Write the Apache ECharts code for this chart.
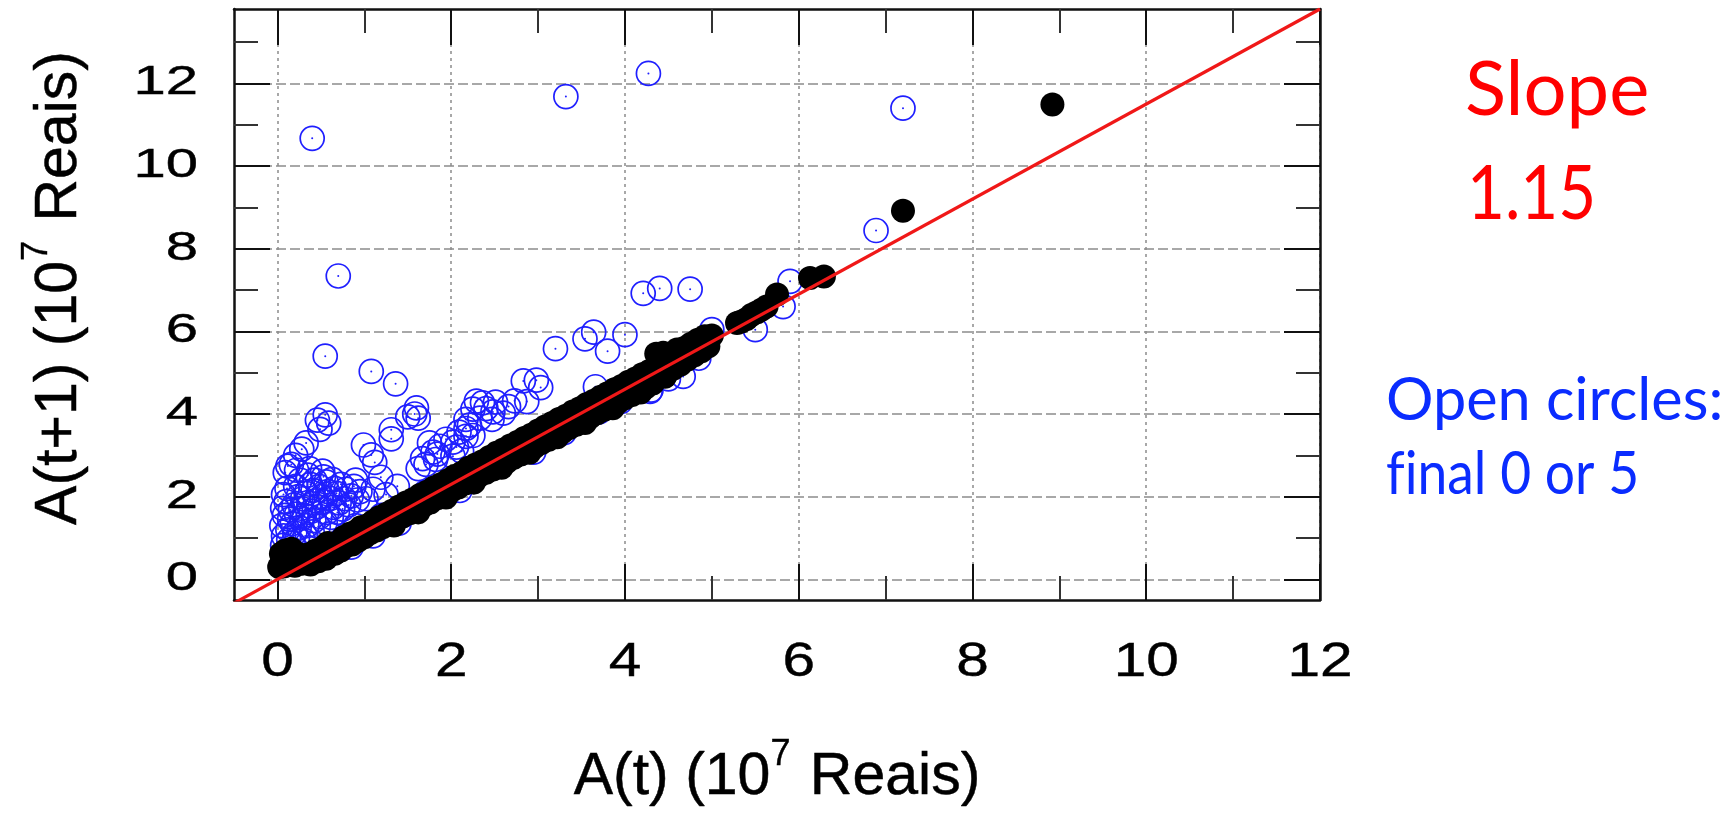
<!DOCTYPE html>
<html>
<head>
<meta charset="utf-8">
<title>A(t+1) vs A(t)</title>
<script src="https://cdn.jsdelivr.net/npm/echarts@6/dist/echarts.min.js"></script>
<style>
  html, body { margin: 0; padding: 0; background: #ffffff; }
  #chart { width: 1731px; height: 815px; }
</style>
</head>
<body>
<div id="chart"></div>
<script>
// Axis extents and tick values (units of 10^7 Reais)
const xRange = [-0.5, 12];
const yRange = [-0.5, 13.8];
const xTicks = [0, 2, 4, 6, 8, 10, 12];
const xMinorTicks = [1, 3, 5, 7, 9, 11];
const yTicks = [0, 2, 4, 6, 8, 10, 12];
const yMinorTicks = [1, 3, 5, 7, 9, 11, 13];

// Fitted growth line A(t+1) = slope * A(t)
const slope = 1.15;

// Filled circles: [A(t), A(t+1)]
const filledPoints = [
  [0.02,0.30],[0.05,0.42],[0.07,0.31],[0.10,0.50],[0.12,0.34],[0.15,0.44],[0.18,0.56],[0.20,0.33],
  [0.23,0.48],[0.26,0.60],[0.29,0.38],[0.32,0.52],[0.35,0.60],[0.38,0.36],[0.41,0.52],[0.44,0.70],
  [0.47,0.44],[0.50,0.62],[0.53,0.78],[0.56,0.50],[0.60,0.72],[0.63,0.86],[0.66,0.62],[0.70,0.90],
  [0.73,0.70],[0.76,1.02],[0.80,0.82],[0.83,1.10],[0.86,0.84],[0.90,1.16],[0.93,0.94],[0.96,1.26],
  [1.00,1.02],[1.03,1.30],[1.07,1.12],[1.10,1.40],[1.14,1.18],[1.17,1.50],[1.21,1.26],[1.25,1.58],
  [1.28,1.34],[1.32,1.66],[1.36,1.44],[1.40,1.76],[1.44,1.52],[1.48,1.86],[1.52,1.60],[1.56,1.94],
  [1.60,1.70],[1.64,2.04],[1.68,1.78],[1.72,2.12],[1.76,1.86],[1.80,2.22],[1.84,1.96],[1.88,2.30],
  [1.92,2.04],[1.96,2.40],[2.00,2.14],[2.04,2.50],[2.08,2.22],[2.12,2.58],[2.16,2.32],[2.20,2.70],
  [2.24,2.40],[2.28,2.78],[2.32,2.50],[2.36,2.86],[2.40,2.58],[2.44,2.96],[2.48,2.66],[2.52,3.06],
  [2.56,2.76],[2.60,3.14],[2.64,2.84],[2.68,3.24],[2.72,2.94],[2.76,3.32],[2.80,3.02],[2.84,3.42],
  [2.88,3.12],[2.92,3.50],[2.96,3.20],[3.00,3.60],[3.04,3.30],[3.08,3.70],[3.12,3.38],[3.16,3.78],
  [3.20,3.48],[3.24,3.88],[3.28,3.56],[3.32,3.96],[3.36,3.66],[3.40,4.06],[3.44,3.74],[3.48,4.14],
  [3.52,3.84],[3.56,4.24],[3.60,3.92],[3.64,4.32],[3.68,4.02],[3.72,4.42],[3.76,4.10],[3.80,4.50],
  [3.84,4.20],[3.88,4.60],[3.92,4.28],[3.96,4.68],[4.00,4.38],[4.04,4.78],[4.08,4.46],[4.12,4.86],
  [4.16,4.56],[4.20,4.96],[4.24,4.64],[4.28,5.04],[4.32,4.74],[4.36,5.46],[4.40,5.22],[4.44,5.48],
  [4.48,4.98],[4.52,5.36],[4.56,5.10],[4.60,5.56],[4.64,5.20],[4.68,5.60],[4.72,5.32],[4.76,5.70],
  [4.80,5.42],[4.84,5.80],[4.88,5.52],[4.92,5.88],[4.96,5.64],[5.00,5.90],
  [5.29,6.20],[5.34,6.24],[5.40,6.30],[5.46,6.40],[5.52,6.46],[5.57,6.52],[5.63,6.60],[5.75,6.89],
  [6.13,7.29],[6.29,7.33],[7.20,8.92],[8.92,11.49],
  [0.04,0.62],[0.09,0.70],[0.16,0.74],[0.58,0.88],[0.97,1.10],[1.34,1.30],[1.62,1.62],[1.94,1.98],
  [2.26,2.34],[2.58,2.70],[2.90,3.06],[3.22,3.44],[3.54,3.78],[3.86,4.14],[4.18,4.52],[4.46,4.90]
];

// Open circles (final digit 0 or 5): [A(t), A(t+1)]
const openPoints = [
  [4.27,12.24],[3.32,11.68],[7.20,11.40],[0.40,10.67],[6.89,8.44],[0.70,7.34],[5.90,7.21],
  [4.21,6.92],[4.40,7.04],[4.75,7.02],[5.82,6.60],[5.50,6.04],[5.00,6.04],
  [0.55,5.40],[1.08,5.03],[1.36,4.73],[3.20,5.58],[3.54,5.82],[3.64,5.98],[3.80,5.52],[4.00,5.92],
  [3.66,4.66],[4.29,4.55],[4.67,4.91],
  [2.83,4.80],[2.98,4.82],[3.03,4.64],[2.87,4.30],[2.73,4.32],
  [2.29,4.31],[2.36,4.27],[2.51,4.29],[2.25,4.12],[2.40,4.13],[2.48,4.05],[2.17,3.87],[2.33,3.90],
  [2.47,3.87],[2.60,4.02],[2.66,4.18],
  [1.60,4.15],[1.58,4.00],[1.62,3.90],[1.50,3.93],
  [0.55,3.98],[0.46,3.85],[0.59,3.78],[0.49,3.63],[0.33,3.30],[0.28,3.15],
  [0.99,3.25],[1.08,3.01],[1.12,2.83],[1.19,2.47],[1.31,3.62],[1.31,3.40],[1.62,2.68],
  [0.21,3.00],[0.12,2.74],[0.22,2.64],[0.09,2.58],[0.16,2.78],
  [1.71,2.78],[1.67,2.92],[1.79,3.08],[1.84,3.03],[1.75,3.30],[1.87,3.22],[1.94,3.39],[2.02,3.32],
  [2.06,3.20],[2.09,3.56],[2.17,3.65],[2.17,3.46],[2.21,3.73],[2.25,3.48],[1.82,2.90],[2.02,2.98],
  [2.12,3.10],
  [0.06,0.82],[0.07,1.05],[0.05,1.30],[0.08,1.55],[0.06,1.72],[0.10,1.88],[0.07,2.05],[0.12,1.20],
  [0.13,0.95],[0.14,1.45],[0.11,2.20],[0.15,1.68],
  [0.18,0.88],[0.20,1.12],[0.17,1.35],[0.22,1.58],[0.19,1.80],[0.24,2.00],[0.21,2.25],[0.26,2.40],
  [0.25,1.25],[0.28,1.48],[0.27,1.72],[0.29,1.95],[0.23,0.98],
  [0.32,1.05],[0.34,1.30],[0.31,1.55],[0.36,1.78],[0.33,2.08],[0.38,2.30],[0.35,2.52],[0.40,1.15],
  [0.42,1.42],[0.39,1.65],[0.44,1.90],[0.41,2.15],[0.43,2.40],[0.37,2.68],
  [0.47,1.28],[0.49,1.52],[0.46,1.76],[0.51,2.00],[0.48,2.25],[0.53,2.48],[0.55,1.38],[0.57,1.62],
  [0.54,1.88],[0.58,2.12],[0.56,2.36],[0.52,2.62],
  [0.62,1.50],[0.64,1.74],[0.61,1.96],[0.66,2.20],[0.63,2.42],[0.69,1.62],[0.71,1.85],[0.68,2.08],
  [0.73,2.30],[0.75,1.70],[0.77,1.95],[0.79,2.18],
  [0.82,1.80],[0.85,2.02],[0.88,2.25],[0.92,1.92],[0.95,2.12],[0.90,2.40],
  [1.02,1.95],[1.10,2.18],[1.25,2.05],[1.38,2.25],
  [0.30,0.95],[0.60,1.10],[0.90,1.30],[1.20,1.55],[1.45,1.55],[1.70,2.10],[1.90,2.05],[2.20,2.45],
  [2.50,2.75],[2.80,3.05],[3.10,3.40],[3.40,3.75],[3.70,4.05],[3.95,4.30],[4.50,4.85],[4.85,5.35],
  [0.85,0.78],[1.10,1.05],[1.40,1.36],[2.10,2.15],[2.95,3.08],[3.30,3.55],[4.30,4.58]
];

const tickFont = 'Liberation Sans, Arial, Helvetica, sans-serif';
const blue = '#1f1fff';

const chart = echarts.init(document.getElementById('chart'), null, { renderer: 'canvas' });

function axisPair(dim, range, ticks, position, major, withLine, withSplit) {
  return {
    type: 'value',
    gridIndex: major ? 0 : 1,
    position: position,
    min: range[0],
    max: range[1],
    splitNumber: dim === 'x' ? 6 : 7,
    axisLine: { show: withLine, onZero: false, lineStyle: { color: '#111', width: 2.5 } },
    axisTick: {
      show: true, inside: true, customValues: ticks,
      length: major ? 36 : 24,
      lineStyle: { color: major ? '#111' : '#333', width: 2 }
    },
    axisLabel: { show: false, customValues: ticks },
    splitLine: {
      show: withSplit,
      lineStyle: {
        color: '#8c8c8c', width: 1.5,
        type: dim === 'x' ? [3, 4] : [10, 4]
      }
    },
    minorTick: { show: false },
    minorSplitLine: { show: false }
  };
}

const gridRect = { left: 234, top: 9, width: 1086, height: 591 };

const option = {
  backgroundColor: '#ffffff',
  animation: false,
  grid: [
    Object.assign({ containLabel: false }, gridRect),
    Object.assign({ containLabel: false }, gridRect)
  ],
  xAxis: [
    axisPair('x', xRange, xTicks, 'bottom', true, true, true),
    axisPair('x', xRange, xTicks, 'top', true, true, false),
    axisPair('x', xRange, xMinorTicks, 'bottom', false, false, false),
    axisPair('x', xRange, xMinorTicks, 'top', false, false, false)
  ],
  yAxis: [
    axisPair('y', yRange, yTicks, 'left', true, true, true),
    axisPair('y', yRange, yTicks, 'right', true, true, false),
    axisPair('y', yRange, yMinorTicks, 'left', false, false, false),
    axisPair('y', yRange, yMinorTicks, 'right', false, false, false)
  ],
  series: [
    {
      name: 'final 0 or 5',
      type: 'scatter',
      xAxisIndex: 0, yAxisIndex: 0,
      data: openPoints,
      symbol: 'circle',
      symbolSize: 24,
      itemStyle: { color: 'rgba(0,0,0,0)', borderColor: blue, borderWidth: 1.7, opacity: 1 },
      z: 2,
      silent: true
    },
    {
      name: 'centres',
      type: 'scatter',
      xAxisIndex: 0, yAxisIndex: 0,
      data: openPoints,
      symbol: 'circle',
      symbolSize: 2,
      itemStyle: { color: blue, opacity: 1 },
      z: 2,
      silent: true
    },
    {
      name: 'other',
      type: 'scatter',
      xAxisIndex: 0, yAxisIndex: 0,
      data: filledPoints,
      symbol: 'circle',
      symbolSize: 24,
      itemStyle: { color: '#000000', opacity: 1 },
      z: 3,
      silent: true
    },
    {
      name: 'slope',
      type: 'line',
      xAxisIndex: 0, yAxisIndex: 0,
      data: [[xRange[0], slope * xRange[0]], [xRange[1], slope * xRange[1]]],
      symbol: 'none',
      clip: true,
      lineStyle: { color: '#f01818', width: 3.2 },
      z: 4,
      silent: true
    }
  ]
};

chart.setOption(option);

// Tick labels and axis titles, placed through the axes' own scales
const graphics = [];
const bottomPx = chart.convertToPixel({ yAxisIndex: 0 }, yRange[0]);
const leftPx = chart.convertToPixel({ xAxisIndex: 0 }, xRange[0]);

xTicks.forEach(function (v) {
  graphics.push({
    type: 'text',
    x: chart.convertToPixel({ xAxisIndex: 0 }, v),
    y: bottomPx + 63,
    scaleX: 1.22,
    style: {
      text: String(v), font: '48px ' + tickFont, fill: '#000',
      stroke: '#000', lineWidth: 0.4,
      align: 'center', verticalAlign: 'middle'
    }
  });
});
yTicks.forEach(function (v) {
  graphics.push({
    type: 'text',
    x: leftPx - 36,
    y: chart.convertToPixel({ yAxisIndex: 0 }, v),
    scaleX: 1.45,
    style: {
      text: String(v), font: '40px ' + tickFont, fill: '#000',
      stroke: '#000', lineWidth: 0.4,
      align: 'right', verticalAlign: 'middle'
    }
  });
});

const titleRich = {
  a: { fontFamily: tickFont, fontSize: 59, fill: '#000', stroke: '#000', lineWidth: 0.5 },
  s: { fontFamily: tickFont, fontSize: 36, fill: '#000', stroke: '#000', lineWidth: 0.4,
       verticalAlign: 'top', padding: [0, 3, 46, 0] }
};
graphics.push({
  type: 'text',
  x: (leftPx + chart.convertToPixel({ xAxisIndex: 0 }, xRange[1])) / 2,
  y: 778,
  style: {
    text: '{a|A(t) (10}{s|7}{a| Reais)}', rich: titleRich,
    align: 'center', verticalAlign: 'middle'
  }
});
graphics.push({
  type: 'text',
  x: 60,
  y: 288,
  rotation: Math.PI / 2,
  style: {
    text: '{a|A(t+1) (10}{s|7}{a| Reais)}', rich: titleRich,
    align: 'center', verticalAlign: 'middle'
  }
});

// Annotations on the right
const noteFont = 'Lato, "Open Sans", sans-serif';
graphics.push({
  type: 'text', x: 1465, y: 52,
  style: { text: 'Slope', font: '76px ' + noteFont, fill: '#ff0000' }
});
graphics.push({
  type: 'text', x: 1467, y: 156, scaleX: 0.86,
  style: { text: '1.15', font: '76px ' + noteFont, fill: '#ff0000' }
});
graphics.push({
  type: 'text', x: 1386, y: 371, scaleX: 0.99,
  style: { text: 'Open circles:', font: '60px ' + noteFont, fill: '#0a2cff' }
});
graphics.push({
  type: 'text', x: 1386, y: 445, scaleX: 0.89,
  style: { text: 'f\u200Cinal 0 or 5', font: '60px ' + noteFont, fill: '#0a2cff' }
});

chart.setOption({ graphic: graphics });
</script>
</body>
</html>
